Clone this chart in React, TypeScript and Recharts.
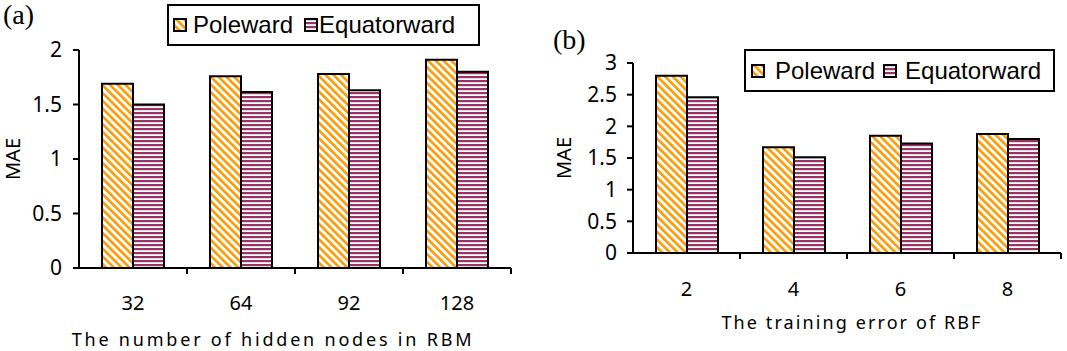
import { BarChart, Bar, XAxis, YAxis, Label } from 'recharts'

const seriesNames = ['Poleward', 'Equatorward']

// (a) hidden nodes in RBM
const nodeCounts = ['32', '64', '92', '128']
const polewardA = [1.69, 1.76, 1.78, 1.91]
const equatorwardA = [1.5, 1.615, 1.63, 1.8]
const ticksA = [0, 0.5, 1, 1.5, 2]

// (b) training error of RBF
const trainErrors = ['2', '4', '6', '8']
const polewardB = [2.8, 1.67, 1.85, 1.88]
const equatorwardB = [2.46, 1.51, 1.73, 1.8]
const ticksB = [0, 0.5, 1, 1.5, 2, 2.5, 3]

const ORANGE = '#ff9900'
const MAROON = '#993366'
const tickFont = '"Noto Sans", sans-serif'

function Patterns({ id }: { id: string }) {
  return (
    <defs>
      <pattern id={`pole-${id}`} patternUnits="userSpaceOnUse" width={5.5} height={10} patternTransform="rotate(-45)">
        <rect width={5.5} height={10} fill="#fff" />
        <rect width={2.6} height={10} fill={ORANGE} />
      </pattern>
      <pattern id={`equ-${id}`} patternUnits="userSpaceOnUse" width={10} height={4}>
        <rect width={10} height={4} fill="#fff" />
        <rect width={10} height={2.2} fill={MAROON} />
      </pattern>
    </defs>
  )
}

function makeCatTick(step: number, labelDy: number) {
  return (props: any) => {
    const { x, y, payload } = props
    const bx = x + step / 2
    return (
      <g>
        <line x1={bx} x2={bx} y1={y} y2={y + 6} stroke="#000" strokeWidth={2} />
        <text x={x} y={y + labelDy} textAnchor="middle" dominantBaseline="central"
          fontFamily={tickFont} fontSize={20} fill="#000">
          {payload.value}
        </text>
      </g>
    )
  }
}

function YTitle({ viewBox, dx }: any) {
  const cx = viewBox.x + dx
  const cy = viewBox.y + viewBox.height / 2
  return (
    <text x={cx} y={cy} transform={`rotate(-90 ${cx} ${cy})`} textAnchor="middle"
      dominantBaseline="central" fontFamily={tickFont} fontSize={20} fill="#000">
      MAE
    </text>
  )
}

function XTitle({ viewBox, value, dx, dy, spacing }: any) {
  const cx = viewBox.x + viewBox.width / 2 + dx
  return (
    <text x={cx} y={viewBox.y + dy} textAnchor="middle" dominantBaseline="central"
      fontFamily={tickFont} fontSize={18} letterSpacing={spacing} fill="#000">
      {value}
    </text>
  )
}

function LegendIcon({ kind, id }: { kind: 'pole' | 'equ'; id: string }) {
  return (
    <svg width={14} height={14} style={{ display: 'block' }}>
      <Patterns id={`lg-${id}`} />
      <rect x={1} y={1} width={12} height={12} fill={`url(#${kind}-lg-${id})`} stroke="#000" strokeWidth={2} />
    </svg>
  )
}

function LegendBox({ id, left, top, width, height, gaps }: any) {
  const txt = { fontFamily: '"Liberation Sans", Arial, sans-serif', fontSize: 24, lineHeight: '24px', color: '#000' }
  return (
    <div style={{
      position: 'absolute', left, top, width, height, boxSizing: 'border-box',
      border: '2px solid #000', background: '#fff', display: 'flex', alignItems: 'center',
      paddingLeft: gaps[0],
    }}>
      <LegendIcon kind="pole" id={id} />
      <span style={{ ...txt, marginLeft: gaps[1] }}>{seriesNames[0]}</span>
      <span style={{ marginLeft: gaps[2] }}><LegendIcon kind="equ" id={id} /></span>
      <span style={{ ...txt, marginLeft: gaps[3] }}>{seriesNames[1]}</span>
    </div>
  )
}

function Panel({ id, cats, pole, equ, ticks, domainMax, left, width, margin, yWidth, xHeight, tickDy,
  title, titleDx, titleDy, titleSpacing, maeDx, tickMargin }: any) {
  const data = cats.map((c: string, i: number) => ({ cat: c, pole: pole[i], equ: equ[i] }))
  const plotW = width - margin.left - margin.right - yWidth
  const step = plotW / cats.length
  return (
    <div style={{ position: 'absolute', left, top: 0 }}>
      <BarChart width={width} height={351} data={data} margin={margin} barGap={0} barSize={31}>
        <Patterns id={id} />
        <XAxis dataKey="cat" height={xHeight} tickLine={false} tickSize={0} tickMargin={0}
          axisLine={{ stroke: '#000', strokeWidth: 2 }} tick={makeCatTick(step, tickDy)} interval={0}>
          <Label content={<XTitle value={title} dx={titleDx} dy={titleDy} spacing={titleSpacing} />} />
        </XAxis>
        <YAxis width={yWidth} domain={[0, domainMax]} ticks={ticks} interval={0}
          axisLine={{ stroke: '#000', strokeWidth: 2 }} tickLine={{ stroke: '#000', strokeWidth: 2 }}
          tickSize={6} tickMargin={tickMargin}
          tick={{ fontFamily: tickFont, fontSize: 21, fill: '#000' }}>
          <Label content={<YTitle dx={maeDx} />} />
        </YAxis>
        <Bar dataKey="pole" name={seriesNames[0]} fill={`url(#pole-${id})`} stroke="#000" strokeWidth={2}
          isAnimationActive={false} />
        <Bar dataKey="equ" name={seriesNames[1]} fill={`url(#equ-${id})`} stroke="#000" strokeWidth={2}
          isAnimationActive={false} />
      </BarChart>
    </div>
  )
}

export default function App() {
  const panelLabel = { position: 'absolute' as const, fontFamily: '"Liberation Serif", serif', fontSize: 28, lineHeight: '28px' }
  return (
    <div style={{ position: 'absolute', left: 0, top: 0, width: 1067, height: 351, background: '#fff', overflow: 'hidden' }}>
      <Panel id="a" cats={nodeCounts} pole={polewardA} equ={equatorwardA} ticks={ticksA} domainMax={2}
        left={0} width={530} margin={{ top: 50, right: 19, bottom: 0, left: 0 }} yWidth={79} xHeight={83}
        tickDy={34} title="The number of hidden nodes in RBM" titleDx={-22} titleDy={71} titleSpacing={2.8}
        maeDx={12} tickMargin={11} />
      <Panel id="b" cats={trainErrors} pole={polewardB} equ={equatorwardB} ticks={ticksB} domainMax={3}
        left={540} width={527} margin={{ top: 63, right: 6, bottom: 0, left: 0 }} yWidth={93} xHeight={98}
        tickDy={35} title="The training error of RBF" titleDx={5} titleDy={69} titleSpacing={2.1}
        maeDx={23} tickMargin={10} />
      <LegendBox id="a" left={167} top={4} width={313} height={42} gaps={[4, 6, 11, 1]} />
      <LegendBox id="b" left={744} top={49} width={311} height={43} gaps={[5, 10, 8, 8]} />
      <div style={{ ...panelLabel, left: 3, top: 1 }}>(a)</div>
      <div style={{ ...panelLabel, left: 553, top: 26 }}>(b)</div>
    </div>
  )
}
